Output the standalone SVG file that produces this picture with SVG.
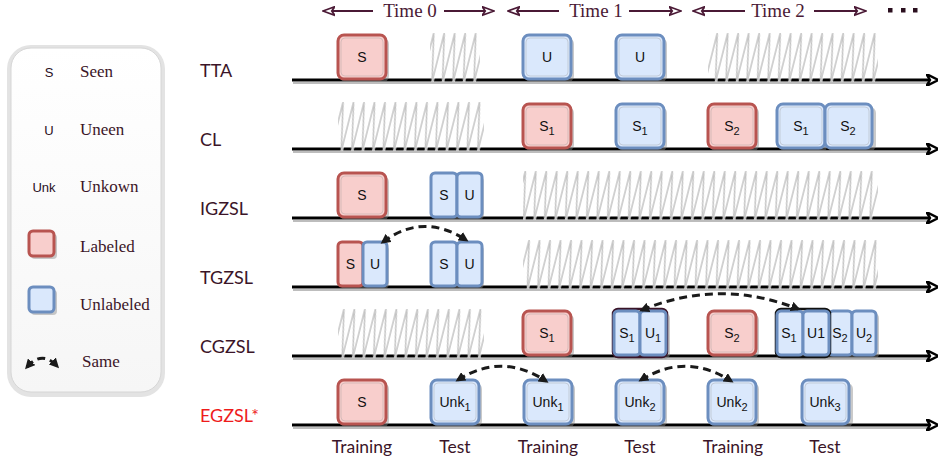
<svg xmlns="http://www.w3.org/2000/svg" width="943" height="459" viewBox="0 0 943 459">
<defs>
<style>
.lbl{font-family:Lato,"Open Sans",sans-serif;font-size:18px;fill:#3b1528}
.btm{font-family:Lato,"Open Sans",sans-serif;font-size:17.5px;fill:#3b1528;text-anchor:middle}
.hdr{font-family:"Liberation Serif",serif;font-size:19px;fill:#4a1935;text-anchor:middle}
.leg{font-family:"Liberation Serif",serif;font-size:17px;fill:#3b1528}
.sym{font-family:"Liberation Sans",sans-serif;font-size:13px;fill:#2a0f1e;text-anchor:middle}
.bt{font-family:"Liberation Sans",sans-serif;font-size:14px;fill:#111;text-anchor:middle}
.sub{font-size:11px}
.red{fill:#f8cecc;stroke:#b85450;stroke-width:3}
.blue{fill:#dae8fc;stroke:#6c8ebf;stroke-width:3}
.sh{fill:#8a8a8a;opacity:.45}
.in{fill:none;stroke:#999;stroke-opacity:.35;stroke-width:1}
.axis{stroke:#000;stroke-width:3;fill:none;marker-end:url(#ah)}
.axsh{stroke:#bdbdbd;stroke-width:2}
.hatch{fill:url(#hp)}
.same{fill:none;stroke:#1a1a1a;stroke-width:3;stroke-dasharray:8 5;marker-start:url(#sa);marker-end:url(#sa)}
.harr{stroke:#4a1935;stroke-width:2.2;fill:none;marker-end:url(#ha)}
</style>
<pattern id="hp" patternUnits="userSpaceOnUse" x="0" y="13" width="10.5" height="69" patternTransform="skewX(-14)">
<path d="M1,69 L1,62" fill="none" stroke="#fff" stroke-width="3"/>
<path d="M1,69 L1,20 L11.5,69" fill="none" stroke="#c4c4c4" stroke-width="1.5" stroke-linejoin="bevel"/>
<path d="M-9.5,20 L1,69" fill="none" stroke="#c4c4c4" stroke-width="1.5"/>
</pattern>
<marker id="ah" viewBox="0 0 10 10" refX="8" refY="5" markerWidth="4" markerHeight="4" orient="auto">
<path d="M0,0 L10,5 L0,10 L3,5 z" fill="#fff" stroke="#000" stroke-width="2"/>
</marker>
<marker id="ha" viewBox="0 0 12 10" refX="10" refY="5" markerWidth="6" markerHeight="5" orient="auto-start-reverse">
<path d="M0,1 L11,5 L0,9 L3,5 z" fill="#fff" stroke="#4a1935" stroke-width="1.5"/>
</marker>
<marker id="sa" viewBox="0 0 10 10" refX="7" refY="5" markerWidth="3.3" markerHeight="3.3" orient="auto-start-reverse">
<path d="M0,0 L10,5 L0,10 z" fill="#1a1a1a"/>
</marker>
<linearGradient id="lg" x1="0" y1="0" x2="0" y2="1">
<stop offset="0" stop-color="#ffffff"/>
<stop offset="1" stop-color="#f6f6f6"/>
</linearGradient>
</defs>

<!-- header -->
<g id="header">
<line class="harr" x1="373" y1="11" x2="324" y2="11"/>
<text class="hdr" x="410" y="17">Time 0</text>
<line class="harr" x1="444" y1="11" x2="493" y2="11"/>
<line class="harr" x1="559" y1="11" x2="509" y2="11"/>
<text class="hdr" x="596" y="17">Time 1</text>
<line class="harr" x1="629" y1="11" x2="680" y2="11"/>
<line class="harr" x1="745" y1="11" x2="694" y2="11"/>
<text class="hdr" x="778" y="17">Time 2</text>
<line class="harr" x1="814" y1="11" x2="865" y2="11"/>
<rect x="888" y="8" width="4.5" height="4.5" fill="#2a0f1e"/>
<rect x="901" y="8" width="4.5" height="4.5" fill="#2a0f1e"/>
<rect x="913" y="8" width="4.5" height="4.5" fill="#2a0f1e"/>
</g>

<!-- legend -->
<g id="legend">
<rect x="7" y="45" width="158" height="352" rx="24" fill="#e3e3e3"/>
<rect x="11" y="48" width="150" height="344" rx="20" fill="url(#lg)" stroke="#d6d6d6" stroke-width="1"/>
<text class="sym" x="49" y="77">S</text><text class="leg" x="80" y="77">Seen</text>
<text class="sym" x="49" y="135">U</text><text class="leg" x="80" y="135">Uneen</text>
<text class="sym" x="44" y="192">Unk</text><text class="leg" x="80" y="192">Unkown</text>
<rect class="sh" x="31" y="234" width="26" height="25" rx="4"/>
<rect class="red" x="29" y="231" width="25" height="25" rx="4"/>
<text class="leg" x="80" y="252">Labeled</text>
<rect class="sh" x="31" y="290" width="26" height="25" rx="4"/>
<rect class="blue" x="29" y="287" width="25" height="25" rx="4"/>
<text class="leg" x="80" y="310">Unlabeled</text>
<path class="same" d="M27,367 Q42,350 57,366"/>
<text class="leg" x="82" y="367">Same</text>
</g>

<!-- row labels -->
<g id="labels">
<text class="lbl" x="200" y="76.5">TTA</text>
<text class="lbl" x="200" y="145.5">CL</text>
<text class="lbl" x="200" y="214.5">IGZSL</text>
<text class="lbl" x="200" y="283.5">TGZSL</text>
<text class="lbl" x="200" y="352.5">CGZSL</text>
<text class="lbl" x="200" y="421.5" style="fill:#ee1c1c">EGZSL*</text>
</g>

<!-- axes -->
<g id="axes">
<line class="axsh" x1="293" y1="83" x2="930" y2="83"/>
<line class="axis" x1="292" y1="80" x2="936" y2="80"/>
<line class="axsh" x1="293" y1="152" x2="930" y2="152"/>
<line class="axis" x1="292" y1="149" x2="936" y2="149"/>
<line class="axsh" x1="293" y1="221" x2="930" y2="221"/>
<line class="axis" x1="292" y1="218" x2="936" y2="218"/>
<line class="axsh" x1="293" y1="290" x2="930" y2="290"/>
<line class="axis" x1="292" y1="287" x2="936" y2="287"/>
<line class="axsh" x1="293" y1="359" x2="930" y2="359"/>
<line class="axis" x1="292" y1="356" x2="936" y2="356"/>
<line class="axsh" x1="293" y1="428" x2="930" y2="428"/>
<line class="axis" x1="292" y1="425" x2="936" y2="425"/>
</g>

<!-- hatched (not available) spans -->
<g id="hatches">
<rect class="hatch" x="430" y="33" width="50" height="49"/>
<rect class="hatch" x="708" y="33" width="170" height="49"/>
<rect class="hatch" x="338" y="102" width="146" height="49"/>
<rect class="hatch" x="523" y="171" width="355" height="49"/>
<rect class="hatch" x="523" y="240" width="355" height="49"/>
<rect class="hatch" x="338" y="309" width="146" height="49"/>
</g>

<!-- TTA -->
<g id="tta-s"><rect class="sh" x="340" y="38" width="49" height="44" rx="6"/><rect class="red" x="338" y="35" width="48" height="44" rx="6"/><rect class="in" x="341" y="38" width="42" height="38" rx="4"/><text class="bt" x="362" y="62">S</text></g>
<g id="tta-u1"><rect class="sh" x="525" y="38" width="49" height="44" rx="6"/><rect class="blue" x="523" y="35" width="48" height="44" rx="6"/><rect class="in" x="526" y="38" width="42" height="38" rx="4"/><text class="bt" x="547" y="62">U</text></g>
<g id="tta-u2"><rect class="sh" x="618" y="38" width="49" height="44" rx="6"/><rect class="blue" x="616" y="35" width="48" height="44" rx="6"/><rect class="in" x="619" y="38" width="42" height="38" rx="4"/><text class="bt" x="640" y="62">U</text></g>

<!-- CL -->
<g id="cl-s1"><rect class="sh" x="525" y="107" width="49" height="44" rx="6"/><rect class="red" x="523" y="104" width="48" height="44" rx="6"/><rect class="in" x="526" y="107" width="42" height="38" rx="4"/><text class="bt" x="547" y="131">S<tspan class="sub" dy="4">1</tspan></text></g>
<g id="cl-s1t"><rect class="sh" x="618" y="107" width="49" height="44" rx="6"/><rect class="blue" x="616" y="104" width="48" height="44" rx="6"/><rect class="in" x="619" y="107" width="42" height="38" rx="4"/><text class="bt" x="640" y="131">S<tspan class="sub" dy="4">1</tspan></text></g>
<g id="cl-s2"><rect class="sh" x="710" y="107" width="49" height="44" rx="6"/><rect class="red" x="708" y="104" width="48" height="44" rx="6"/><rect class="in" x="711" y="107" width="42" height="38" rx="4"/><text class="bt" x="732" y="131">S<tspan class="sub" dy="4">2</tspan></text></g>
<g id="cl-s1b"><rect class="sh" x="779" y="107" width="49" height="44" rx="6"/><rect class="blue" x="777" y="104" width="48" height="44" rx="6"/><rect class="in" x="780" y="107" width="42" height="38" rx="4"/><text class="bt" x="801" y="131">S<tspan class="sub" dy="4">1</tspan></text></g>
<g id="cl-s2b"><rect class="sh" x="827" y="107" width="49" height="44" rx="6"/><rect class="blue" x="825" y="104" width="47" height="44" rx="6"/><rect class="in" x="828" y="107" width="41" height="38" rx="4"/><text class="bt" x="848" y="131">S<tspan class="sub" dy="4">2</tspan></text></g>

<!-- IGZSL -->
<g id="ig-s"><rect class="sh" x="340" y="176" width="49" height="44" rx="6"/><rect class="red" x="338" y="173" width="48" height="44" rx="6"/><rect class="in" x="341" y="176" width="42" height="38" rx="4"/><text class="bt" x="362" y="200">S</text></g>
<g id="ig-su"><rect class="sh" x="433" y="176" width="51" height="44" rx="5"/><rect class="blue" x="431" y="173" width="26" height="44" rx="4"/><rect class="blue" x="457" y="173" width="25" height="44" rx="4"/><text class="bt" x="444" y="200">S</text><text class="bt" x="469.5" y="200">U</text></g>

<!-- TGZSL -->
<g id="tg-su"><rect class="sh" x="340" y="245" width="49" height="44" rx="5"/><rect class="red" x="338" y="242" width="25" height="44" rx="4"/><rect class="blue" x="363" y="242" width="24" height="44" rx="4"/><text class="bt" x="350.5" y="269">S</text><text class="bt" x="375" y="269">U</text></g>
<g id="tg-su2"><rect class="sh" x="433" y="245" width="51" height="44" rx="5"/><rect class="blue" x="431" y="242" width="26" height="44" rx="4"/><rect class="blue" x="457" y="242" width="25" height="44" rx="4"/><text class="bt" x="444" y="269">S</text><text class="bt" x="469.5" y="269">U</text></g>

<!-- CGZSL -->
<g id="cg-s1"><rect class="sh" x="525" y="314" width="49" height="44" rx="6"/><rect class="red" x="523" y="311" width="48" height="44" rx="6"/><rect class="in" x="526" y="314" width="42" height="38" rx="4"/><text class="bt" x="547" y="338">S<tspan class="sub" dy="4">1</tspan></text></g>
<g id="cg-su1"><rect class="sh" x="615" y="313" width="55" height="46" rx="5"/><rect x="613" y="309" width="54" height="48" rx="5" fill="none" stroke="#3a1428" stroke-width="2.5"/><rect class="blue" x="614" y="311" width="26" height="44" rx="4"/><rect class="blue" x="640" y="311" width="26" height="44" rx="4"/><text class="bt" x="627" y="338">S<tspan class="sub" dy="4">1</tspan></text><text class="bt" x="653" y="338">U<tspan class="sub" dy="4">1</tspan></text></g>
<g id="cg-s2"><rect class="sh" x="710" y="314" width="49" height="44" rx="6"/><rect class="red" x="708" y="311" width="48" height="44" rx="6"/><rect class="in" x="711" y="314" width="42" height="38" rx="4"/><text class="bt" x="732" y="338">S<tspan class="sub" dy="4">2</tspan></text></g>
<g id="cg-su2"><rect class="sh" x="778" y="313" width="101" height="46" rx="5"/><rect class="blue" x="829" y="311" width="23" height="44" rx="4"/><rect class="blue" x="852" y="311" width="24" height="44" rx="4"/><rect x="776" y="309" width="54" height="48" rx="5" fill="none" stroke="#111" stroke-width="2.5"/><rect class="blue" x="777" y="311" width="26" height="44" rx="4"/><rect class="blue" x="803" y="311" width="26" height="44" rx="4"/><text class="bt" x="789" y="338">S<tspan class="sub" dy="4">1</tspan></text><text class="bt" x="816" y="338">U1</text><text class="bt" x="840" y="338">S<tspan class="sub" dy="4">2</tspan></text><text class="bt" x="864" y="338">U<tspan class="sub" dy="4">2</tspan></text></g>

<!-- EGZSL -->
<g id="eg-s"><rect class="sh" x="340" y="383" width="49" height="44" rx="6"/><rect class="red" x="338" y="380" width="48" height="44" rx="6"/><rect class="in" x="341" y="383" width="42" height="38" rx="4"/><text class="bt" x="362" y="407">S</text></g>
<g id="eg-u1"><rect class="sh" x="433" y="383" width="49" height="44" rx="6"/><rect class="blue" x="431" y="380" width="48" height="44" rx="6"/><rect class="in" x="434" y="383" width="42" height="38" rx="4"/><text class="bt" x="455" y="407">Unk<tspan class="sub" dy="4">1</tspan></text></g>
<g id="eg-u1b"><rect class="sh" x="526" y="383" width="49" height="44" rx="6"/><rect class="blue" x="524" y="380" width="48" height="44" rx="6"/><rect class="in" x="527" y="383" width="42" height="38" rx="4"/><text class="bt" x="548" y="407">Unk<tspan class="sub" dy="4">1</tspan></text></g>
<g id="eg-u2"><rect class="sh" x="618" y="383" width="49" height="44" rx="6"/><rect class="blue" x="616" y="380" width="48" height="44" rx="6"/><rect class="in" x="619" y="383" width="42" height="38" rx="4"/><text class="bt" x="640" y="407">Unk<tspan class="sub" dy="4">2</tspan></text></g>
<g id="eg-u2b"><rect class="sh" x="710" y="383" width="49" height="44" rx="6"/><rect class="blue" x="708" y="380" width="48" height="44" rx="6"/><rect class="in" x="711" y="383" width="42" height="38" rx="4"/><text class="bt" x="732" y="407">Unk<tspan class="sub" dy="4">2</tspan></text></g>
<g id="eg-u3"><rect class="sh" x="804" y="383" width="49" height="44" rx="6"/><rect class="blue" x="802" y="380" width="47" height="44" rx="6"/><rect class="in" x="805" y="383" width="41" height="38" rx="4"/><text class="bt" x="825" y="407">Unk<tspan class="sub" dy="4">3</tspan></text></g>

<!-- connectors -->
<g id="connectors">
<path class="same" d="M383,242 Q423,212 466,240"/>
<path class="same" d="M642,310 Q720,278 798,309"/>
<path class="same" d="M458,380 Q502,352 546,381"/>
<path class="same" d="M641,380 Q686,352 731,381"/>
</g>

<!-- bottom labels -->
<g id="phases">
<text class="btm" x="362" y="453">Training</text>
<text class="btm" x="455" y="453">Test</text>
<text class="btm" x="548" y="453">Training</text>
<text class="btm" x="640" y="453">Test</text>
<text class="btm" x="733" y="453">Training</text>
<text class="btm" x="825" y="453">Test</text>
</g>
</svg>
